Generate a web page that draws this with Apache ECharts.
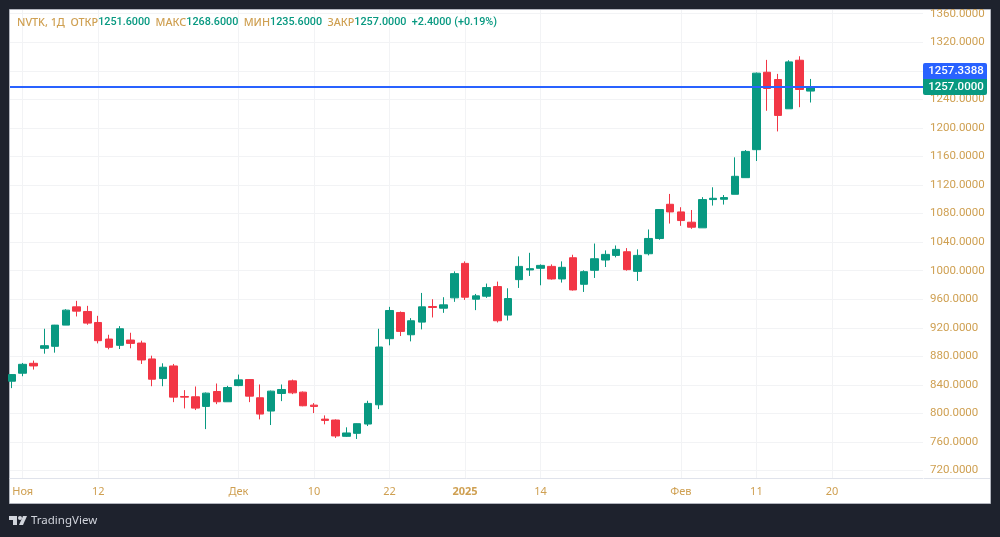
<!DOCTYPE html>
<html>
<head>
<meta charset="utf-8">
<title>NVTK</title>
<script src="https://cdn.jsdelivr.net/npm/echarts@6/dist/echarts.min.js"></script>
<style>
html,body{margin:0;padding:0;background:#1e222d;}
#main{width:1000px;height:537px;}
</style>
</head>
<body>
<div id="main"></div>
<script>
var opens=[845.1,856.3,870.2,891.2,894,923.7,949.3,942.8,927.4,904.2,895.4,902.8,898.6,876.3,848.8,866.5,823.7,823.3,809.8,830.7,816.3,839,847.4,821.9,803.3,827.9,845.6,829.8,811.6,792,790.7,767.9,772.1,785.1,812.1,904.7,941.4,910.2,927.9,949.8,947.4,961.9,1010.2,960,964.2,977.7,937.7,987.4,1001,1003.3,1006,988.4,1018.1,980.9,1000.5,1014.9,1021.4,1026.5,999,1023.7,1045,1093,1082.3,1067.9,1060,1099.6,1100,1107,1130.3,1169.5,1278,1267.8,1226.8,1294.8,1251.6];
var closes=[854.4,868.8,866.5,894.9,923.7,944.7,943.3,926.5,901.9,892.6,918.6,898.1,874.9,847.9,864.7,822.8,822.8,807.4,828.4,816.3,836.3,847,824.2,799.1,831.2,833.5,828.8,810.7,809.8,790.2,768.4,772.6,785.6,814,893,944.2,914.9,929.8,949.3,948.4,952.1,995.8,962.8,964.7,976.3,929.8,960.9,1006,1002.8,1007.4,988.4,1004.7,973,998.6,1016.7,1022.8,1029.8,1001.4,1021.4,1045.1,1085.6,1082.3,1070.2,1060.9,1099.6,1101.4,1102.4,1132.2,1167.1,1276.7,1255.2,1217.5,1292.5,1253.8,1257];
var lows=[835.4,852.1,861.4,883.7,885.1,923.7,935.8,924.2,898.1,889.8,890.2,891.2,869.3,838.1,838.1,815.8,807,804.7,778,813,816.3,838.1,815.8,791.6,783.7,817.2,827,810,800.5,784.7,765.6,767,764.2,782.3,806,895.4,908.4,900.9,917.7,934.4,940.9,956.3,959,944.7,961.9,927.4,930.2,975.8,992.6,979.5,987.4,983.3,972.1,970.2,989.8,1005.1,1018.6,1000,985.6,1021.4,1043.3,1066,1062.8,1058.6,1060,1091.2,1092.6,1107,1130.3,1153.6,1224,1195.1,1226.8,1229,1235.6];
var highs=[855,870.7,874,918.6,924,946,957.7,950.7,936.7,910.2,922.3,913,901.9,880.9,870.2,869.3,832.6,837.7,829.3,841.9,838.6,854.4,848,840.5,832,840.5,847.4,830.7,814.4,797.2,791.6,780.5,786,817.7,918.6,949.3,942.8,933.5,968.8,960,962.8,999,1013,967.4,981.9,984.7,975.3,1020,1025,1008.8,1008.8,1013,1022.3,1000.5,1038,1028.4,1035.3,1031.6,1029.8,1057.7,1085.6,1107.5,1088.9,1085,1103,1116.8,1106,1158.8,1169,1277.6,1295.3,1275.7,1294.8,1300.4,1268.6];

var timeTicks=[1,8,21,28,35,42,49,62,69,76];
var timeLabels=['Ноя','12','Дек','10','22','2025','14','Фев','11','20'];
var priceTicks=[720,760,800,840,880,920,960,1000,1040,1080,1120,1160,1200,1240,1280,1320,1360];
var lastPrice=1257;
var priceBoxes=[['1257.3388','#2962ff'],['1257.0000','#089981']];
var legendParts=[['NVTK, 1Д  ','g'],['ОТКР','g'],['1251.6000  ','v'],['МАКС','g'],['1268.6000  ','v'],['МИН','g'],['1235.6000  ','v'],['ЗАКР','g'],['1257.0000  ','v'],['+2.4000 (+0.19%)','v']];

var UP='#089981',DOWN='#f23645',GOLD='#cfa052',FONT='"Noto Sans"';

var candles=[];
for(var i=0;i<opens.length;i++){
	candles.push([i,opens[i],closes[i],lows[i],highs[i]]);
}
var legendText=legendParts.map(function(p){return '{'+p[1]+'|'+p[0]+'}';}).join('');

var myChart=echarts.init(document.getElementById('main'),null,{renderer:'canvas'});
myChart.setOption({
	animation:false,
	backgroundColor:'#1e222d',
	title:{
		text:legendText,
		left:13,top:17,padding:[0,0,0,4],
		textStyle:{
			rich:{
				g:{color:GOLD,fontFamily:FONT,fontSize:10.8,fontWeight:500},
				v:{color:UP,fontFamily:'Roboto',fontSize:10.8,fontWeight:500}
			}
		}
	},
	grid:{left:10,right:77,top:10,bottom:59},
	xAxis:{
		type:'value',
		min:-0.176,max:84.44,
		axisLine:{show:true,onZero:false,lineStyle:{color:'#e0e3eb'}},
		axisTick:{show:false,customValues:timeTicks},
		splitLine:{show:true,lineStyle:{color:'#f2f3f5'}},
		axisLabel:{
			customValues:timeTicks,
			margin:8,
			fontFamily:FONT,
			fontSize:11,
			color:GOLD,
			formatter:function(v){
				var s=timeLabels[timeTicks.indexOf(v)];
				return s==='2025'?'{b|'+s+'}':s;
			},
			rich:{b:{fontFamily:FONT,fontSize:11,fontWeight:'bold',color:GOLD}}
		}
	},
	yAxis:{
		type:'value',
		position:'right',
		min:709.5,max:1365.2,
		axisLine:{show:false},
		axisTick:{show:false,customValues:priceTicks},
		splitLine:{show:true,lineStyle:{color:'#f2f3f5'}},
		axisLabel:{
			customValues:priceTicks,
			margin:7,
			padding:[5,0,0,0],
			fontFamily:'Roboto',
			fontSize:11.5,
			color:GOLD,
			formatter:function(v){return v.toFixed(4);}
		}
	},
	series:[{
		type:'candlestick',
		barWidth:8,
		encode:{x:0,y:[1,2,3,4]},
		itemStyle:{color:UP,color0:DOWN,borderColor:UP,borderColor0:DOWN,borderWidth:1},
		data:candles,
		markLine:{
			silent:true,
			symbol:'none',
			label:{show:false},
			lineStyle:{color:'#2962ff',type:'solid',width:2},
			data:[{yAxis:lastPrice}]
		}
	}],
	graphic:[
		{type:'rect',z:-10,shape:{x:9.5,y:9.5,width:981,height:494},style:{fill:'#fff',stroke:'#b2b5be',lineWidth:1}},
		{type:'line',z:-5,shape:{x1:924,y1:478.5,x2:990,y2:478.5},style:{stroke:'#e0e3eb',lineWidth:1}},
		{type:'rect',z:50,shape:{x:923,y:63,width:64,height:16,r:[2,2,0,0]},style:{fill:priceBoxes[0][1]}},
		{type:'rect',z:50,shape:{x:923,y:79,width:64,height:16,r:[0,0,2,2]},style:{fill:priceBoxes[1][1]}},
		{type:'text',z:51,x:956,y:71.5,style:{text:priceBoxes[0][0],fill:'#fff',font:'500 11.5px Roboto',align:'center',verticalAlign:'middle'}},
		{type:'text',z:51,x:956,y:87.5,style:{text:priceBoxes[1][0],fill:'#fff',font:'500 11.5px Roboto',align:'center',verticalAlign:'middle'}},
		{type:'polygon',z:51,shape:{points:[[9,516],[17,516],[17,525],[13,525],[13,520],[9,520]]},style:{fill:'#d1d4dc'}},
		{type:'polygon',z:51,shape:{points:[[23,516],[27,516],[23,525],[19,525]]},style:{fill:'#d1d4dc'}},
		{type:'circle',z:51,shape:{cx:20,cy:518,r:2},style:{fill:'#d1d4dc'}},
		{type:'text',z:51,x:31,y:521,style:{text:'TradingView',fill:'#d1d4dc',font:'11.5px "Noto Sans"',verticalAlign:'middle'}}
	]
});
</script>
</body>
</html>
